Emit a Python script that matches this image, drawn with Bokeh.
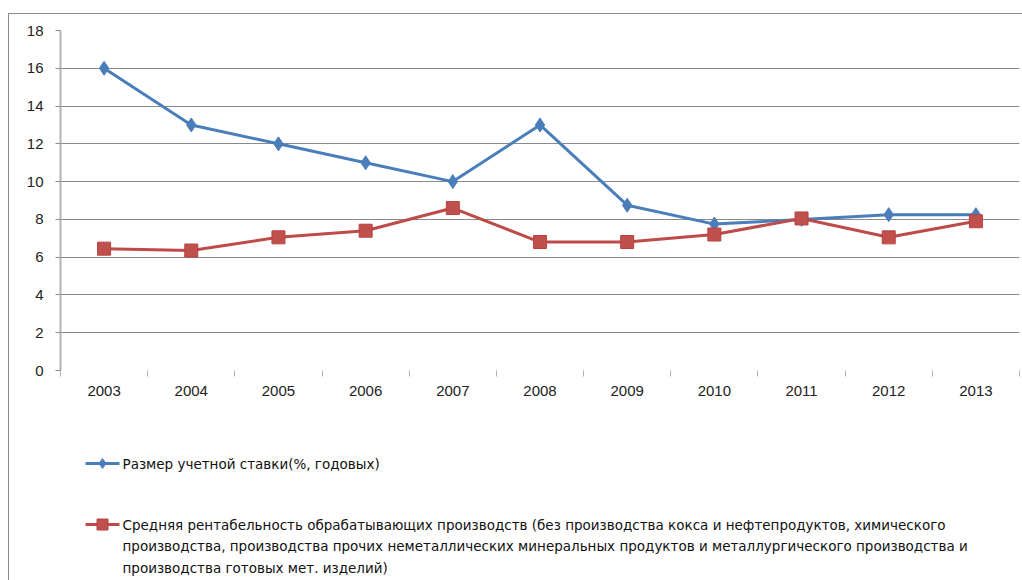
from bokeh.plotting import figure
from bokeh.models import FixedTicker, Range1d
from bokeh.layouts import column
from bokeh.core.properties import value
from bokeh.embed import file_html
from bokeh.resources import INLINE
import numpy as np

years = ["2003", "2004", "2005", "2006", "2007", "2008", "2009", "2010", "2011", "2012", "2013"]
discount_rate = [16, 13, 12, 11, 10, 13, 8.75, 7.75, 8.0, 8.25, 8.25]
profitability = [6.45, 6.35, 7.05, 7.4, 8.6, 6.8, 6.8, 7.2, 8.05, 7.05, 7.9]
y_ticks = [0, 2, 4, 6, 8, 10, 12, 14, 16, 18]

label_blue = "Размер учетной ставки(%, годовых)"
label_red = ["Средняя рентабельность обрабатывающих производств (без производства кокса и нефтепродуктов, химического",
             "производства, производства прочих неметаллических минеральных продуктов и металлургического производства и",
             "производства готовых мет. изделий)"]

BLUE = "#4a7ebb"
RED = "#be4b48"
GRID = "#8a8a8a"
FONT = "Liberation Sans"
LFONT = "DejaVu Sans"

n = len(years)
xc = np.arange(n) + 0.5

W = 1013
H_MAIN = 400
H_LEG = 166
BL, BR = 51, 3

p = figure(width=W, height=H_MAIN, output_backend="svg", toolbar_location=None,
           x_range=Range1d(0, n), y_range=Range1d(0, 18),
           min_border_left=BL, min_border_top=16, min_border_right=BR, min_border_bottom=44)
p.outline_line_color = None
p.background_fill_color = "white"
p.border_fill_color = "white"

# y axis
p.yaxis.ticker = FixedTicker(ticks=y_ticks)
p.yaxis.axis_line_color = "#b4b4b4"
p.yaxis.axis_line_width = 2
p.yaxis.major_tick_line_color = GRID
p.yaxis.major_tick_in = 0
p.yaxis.major_tick_out = 5
p.yaxis.minor_tick_line_color = None
p.yaxis.major_label_text_font = FONT
p.yaxis.major_label_text_font_size = "15px"
p.yaxis.major_label_text_color = "#222222"
p.yaxis.major_label_standoff = 12

# x axis: labels at category centres, tick marks at category boundaries
p.xaxis.ticker = FixedTicker(ticks=list(xc), minor_ticks=list(range(n + 1)))
p.xaxis.major_label_overrides = {float(x): y for x, y in zip(xc, years)}
p.xaxis.axis_line_color = None
p.xaxis.major_tick_line_color = None
p.xaxis.minor_tick_line_color = "#b0b0b0"
p.xaxis.minor_tick_in = 0
p.xaxis.minor_tick_out = 6
p.xaxis.major_label_standoff = 9
p.xaxis.major_label_text_font = FONT
p.xaxis.major_label_text_font_size = "15px"
p.xaxis.major_label_text_color = "#222222"

p.xgrid.grid_line_color = None
p.ygrid.ticker = FixedTicker(ticks=y_ticks[1:])
p.ygrid.grid_line_color = GRID
p.ygrid.grid_line_width = 1

# series
p.line(xc, discount_rate, line_color=BLUE, line_width=3)
p.scatter(xc, discount_rate, marker="diamond", size=14, fill_color=BLUE, line_color=BLUE)
p.line(xc, profitability, line_color=RED, line_width=3)
p.scatter(xc, profitability, marker="square", size=13, fill_color="#c0504d", line_color="#b8423f")

# legend panel: its frame is aligned with the chart's frame, so the x range is
# expressed in canvas pixels of that frame; y in pixels from the panel top
q = figure(width=W, height=H_LEG, output_backend="svg", toolbar_location=None,
           x_range=Range1d(BL, W - BR), y_range=Range1d(H_LEG, 0),
           min_border_left=BL, min_border_right=BR, min_border_top=0, min_border_bottom=0)
q.axis.visible = False
q.grid.visible = False
q.outline_line_color = None
q.background_fill_color = "white"
q.border_fill_color = "white"

GX0, GX1, TX = 76, 110, 113
row_blue = 49
rows_red = [110, 131, 153]

q.line([GX0, GX1], [row_blue, row_blue], line_color=BLUE, line_width=3)
q.scatter([(GX0 + GX1) / 2], [row_blue], marker="diamond", size=10, fill_color=BLUE, line_color=BLUE)
q.text([TX], [row_blue], text=[label_blue], text_baseline="middle", text_align="left",
       text_font=value(LFONT), text_font_size="13.5px", text_color="#111111")

q.line([GX0, GX1], [rows_red[0], rows_red[0]], line_color=RED, line_width=3)
q.scatter([(GX0 + GX1) / 2], [rows_red[0]], marker="square", size=11, fill_color="#c0504d", line_color="#b8423f")
q.text([TX] * 3, rows_red, text=label_red, text_baseline="middle", text_align="left",
       text_font=value(LFONT), text_font_size="13.5px", text_color="#111111")

layout = column(p, q, spacing=0,
                styles={"margin-left": "8px", "margin-top": "13px",
                        "border-top": "1px solid #8c8c8c", "border-left": "1px solid #8c8c8c"})

open("out.html", "w").write(file_html(layout, INLINE))
